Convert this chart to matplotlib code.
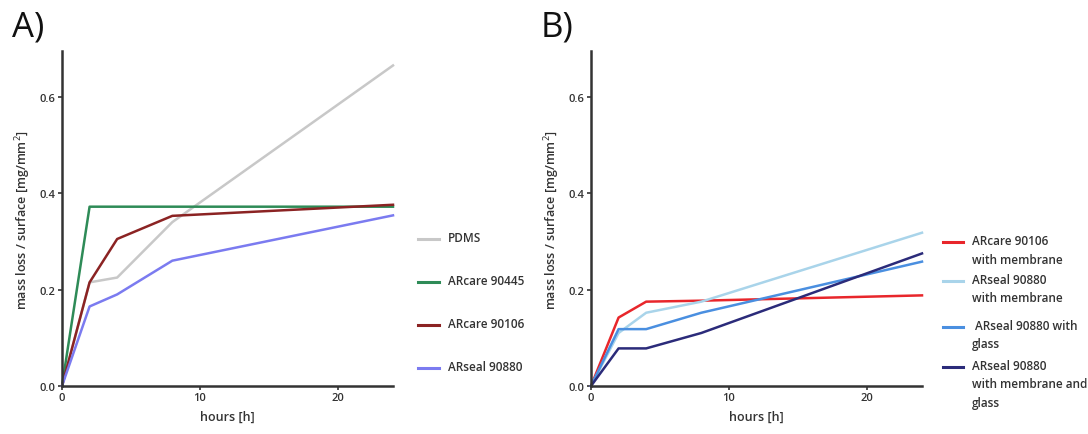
import matplotlib
matplotlib.use("Agg")
import matplotlib.pyplot as plt
from matplotlib.lines import Line2D

hours = [0, 2, 4, 8, 24]

a_labels = ["PDMS", "ARcare 90445", "ARcare 90106", "ARseal 90880"]
a_pdms = [0.0, 0.215, 0.225, 0.34, 0.665]
a_90445 = [0.0, 0.372, 0.372, 0.372, 0.372]
a_90106 = [0.0, 0.215, 0.305, 0.353, 0.376]
a_90880 = [0.0, 0.165, 0.19, 0.26, 0.354]
a_colors = ["#c8c8c8", "#2e8b57", "#8b2323", "#7b7bf0"]

b_labels = ["ARcare 90106\nwith membrane", "ARseal 90880\nwith membrane",
            " ARseal 90880 with\nglass", "ARseal 90880\nwith membrane and\nglass"]
b_90106_mem = [0.0, 0.142, 0.175, 0.177, 0.188]
b_90880_mem = [0.0, 0.11, 0.152, 0.175, 0.318]
b_90880_glass = [0.0, 0.118, 0.118, 0.152, 0.258]
b_90880_mem_glass = [0.0, 0.078, 0.078, 0.11, 0.275]
b_colors = ["#e8262b", "#a9d4ea", "#4a8fe0", "#2b2b7a"]

xticks = [0, 10, 20]
yticks = [0.0, 0.2, 0.4, 0.6]
ytick_labels = ["0.0", "0.2", "0.4", "0.6"]

plt.rcParams['font.family'] = ['Open Sans', 'DejaVu Sans']
TXT = "#333333"

fig = plt.figure(figsize=(10.88, 4.35), dpi=100)
W, H = 1088, 435

def fx(px):
    return px / W

def fy(py):
    return 1 - py / H

def make_ax(left, right, top, bottom):
    return fig.add_axes([fx(left), fy(bottom), (right - left) / W, (bottom - top) / H])

axA = make_ax(62, 393, 52, 387)
axB = make_ax(591, 922, 52, 387)

def style(ax):
    ax.set_xlim(0, 24)
    ax.set_ylim(0, 0.695)
    for s in ["top", "right"]:
        ax.spines[s].set_visible(False)
    for s in ["left", "bottom"]:
        ax.spines[s].set_linewidth(1.8)
        ax.spines[s].set_color("#333333")
    ax.set_xticks(xticks)
    ax.set_yticks(yticks)
    ax.set_yticklabels(ytick_labels)
    ax.tick_params(axis="both", direction="out", length=3, width=1.2, colors=TXT,
                   labelsize=8, pad=1.5)
    for t in ax.get_xticklabels() + ax.get_yticklabels():
        t.set_fontweight("semibold")
    ax.set_xlabel("hours [h]", fontsize=9, fontweight="semibold", color=TXT, labelpad=5)
    ax.set_ylabel("mass loss / surface [mg/mm$^2$]", fontsize=9, fontweight="semibold",
                  color=TXT, labelpad=5)
    ax.patch.set_alpha(0)

for ys, c in zip([a_pdms, a_90445, a_90106, a_90880], a_colors):
    axA.plot(hours, ys, color=c, lw=1.8, clip_on=False)
style(axA)

for ys, c in zip([b_90106_mem, b_90880_mem, b_90880_glass, b_90880_mem_glass], b_colors):
    axB.plot(hours, ys, color=c, lw=1.8, clip_on=False)
style(axB)

def legend(labels, colors, ys, x0, x1, xt, fs=8.5):
    for lab, c, y in zip(labels, colors, ys):
        fig.add_artist(Line2D([fx(x0), fx(x1)], [fy(y), fy(y)], color=c, lw=2.2,
                              transform=fig.transFigure))
        fig.text(fx(xt), fy(y - 8), lab, fontsize=fs, va="top", ha="left", color=TXT,
                 fontweight="semibold", linespacing=1.55)

legend(a_labels, a_colors, [240, 283, 326, 369], 418, 439, 448)
legend(b_labels, b_colors, [243, 282, 328, 368], 943, 963, 972)

fig.text(fx(12), fy(27), "A)", fontsize=25, va="center", ha="left", color="#111111")
fig.text(fx(541), fy(27), "B)", fontsize=25, va="center", ha="left", color="#111111")

fig.savefig("out.png", dpi=100)
